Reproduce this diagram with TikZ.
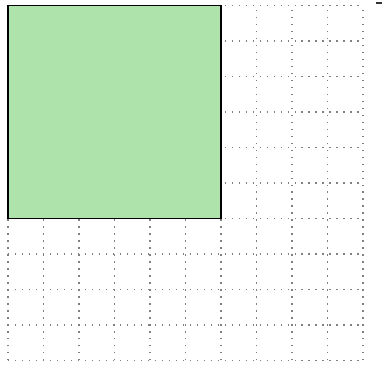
\documentclass[tikz,border=0pt]{standalone}
\begin{document}
\begin{tikzpicture}[x=1cm,y=1cm,
  gridline/.style={draw=gray, line width=1pt, dash pattern=on 1pt off 4.6pt},
  greensq/.style={draw=black, line width=1.4pt, fill={rgb,255:red,175;green,227;blue,172}},
  markline/.style={draw=black!80, line width=1.4pt}]
\useasboundingbox (-0.225,-0.1) rectangle (10.59,10.152);
\draw[gridline] (0,0) grid (10,10);
\draw[greensq] (0,4) rectangle (6,10);
\coordinate (m1) at (10.36,10.07);
\coordinate (m2) at (10.53,10.07);
\draw[markline] (m1) -- (m2);
\end{tikzpicture}
\end{document}
